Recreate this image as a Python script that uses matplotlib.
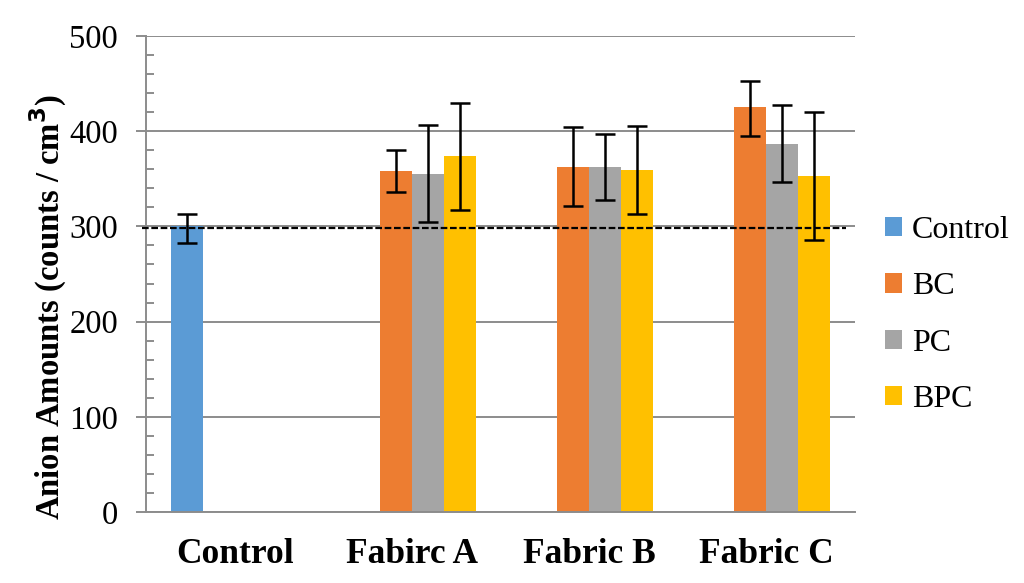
import matplotlib
matplotlib.use("Agg")
import matplotlib.pyplot as plt
import numpy as np
from matplotlib.ticker import MultipleLocator

categories = ["Control", "Fabirc A", "Fabric B", "Fabric C"]
series = ["Control", "BC", "PC", "BPC"]
colors = ["#5B9BD5", "#ED7D31", "#A5A5A5", "#FFC000"]
nan = np.nan
control_vals = [300, nan, nan, nan]
bc_vals = [nan, 358, 362, 425]
pc_vals = [nan, 355, 362, 387]
bpc_vals = [nan, 374, 359, 353]
control_lo = [283, nan, nan, nan]
control_hi = [313, nan, nan, nan]
bc_lo = [nan, 336, 321, 395]
bc_hi = [nan, 380, 404, 453]
pc_lo = [nan, 305, 328, 347]
pc_hi = [nan, 406, 397, 427]
bpc_lo = [nan, 317, 313, 286]
bpc_hi = [nan, 430, 405, 420]
baseline = 298

vals = [control_vals, bc_vals, pc_vals, bpc_vals]
los = [control_lo, bc_lo, pc_lo, bpc_lo]
his = [control_hi, bc_hi, pc_hi, bpc_hi]

plt.rcParams['font.family'] = ['Liberation Serif', 'DejaVu Serif']

fig = plt.figure(figsize=(10.24, 5.83), dpi=100)
ax = fig.add_axes([146/1024, 1-512/583, 709/1024, 476/583])

x = np.arange(len(categories))
w = 0.18
for i, (s, c) in enumerate(zip(series, colors)):
    v = np.array(vals[i], dtype=float)
    lo = np.array(los[i], dtype=float)
    hi = np.array(his[i], dtype=float)
    pos = x + (i - 1.5) * w
    ax.bar(pos, v, width=w, color=c, label=s, zorder=2)
    ax.errorbar(pos, v, yerr=[v - lo, hi - v], fmt='none', ecolor='black',
                elinewidth=1.8, capsize=7, capthick=1.8, zorder=4)

ax.axhline(baseline, xmin=-0.006, xmax=0.987, color='black', linestyle=(0, (3, 1.2)),
           linewidth=1.6, zorder=5, clip_on=False)

ax.set_ylim(0, 500)
ax.set_xlim(-0.5, 3.5)
ax.yaxis.set_major_locator(MultipleLocator(100))
ax.yaxis.set_minor_locator(MultipleLocator(20))
ax.grid(axis='y', which='major', color='#8C8C8C', linewidth=1.4, zorder=0)
ax.set_axisbelow(True)
for sp in ['top', 'right']:
    ax.spines[sp].set_visible(False)
ax.spines['left'].set_color('#8C8C8C')
ax.spines['bottom'].set_color('#8C8C8C')
ax.spines['left'].set_linewidth(1.4)
ax.spines['bottom'].set_linewidth(1.4)
ax.tick_params(axis='y', which='major', direction='out', length=7, width=1.4,
               color='#8C8C8C', labelsize=23.5, pad=13)
ax.tick_params(axis='y', which='minor', direction='in', length=6, width=1.4,
               color='#8C8C8C')
ax.tick_params(axis='x', length=0, labelsize=25.5, pad=19)
ax.set_xticks(x)
ax.set_xticklabels(categories, fontweight='bold')
ax.set_ylabel("Anion Amounts (counts / cm$^\\mathbf{3}$)", fontsize=23.5, fontweight='bold',
              va='center')
ax.yaxis.set_label_coords((48 - 146) / 709, (512 - 307) / 476)

leg = fig.legend(loc='upper left', bbox_to_anchor=(856/1024, 1-187/583), frameon=False,
                 fontsize=23, handlelength=0.55, handleheight=0.55, handletextpad=0.3,
                 labelspacing=0.86)

fig.savefig("out.png", dpi=100)
